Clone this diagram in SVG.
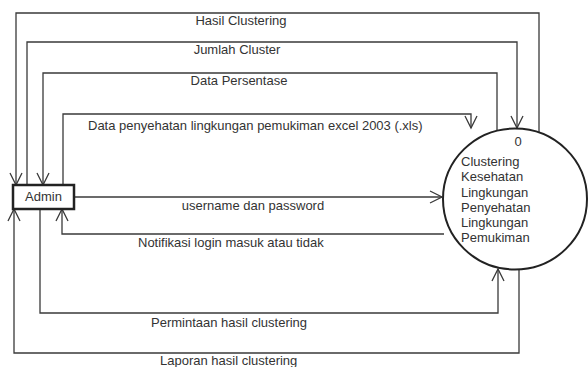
<svg xmlns="http://www.w3.org/2000/svg" width="588" height="367" viewBox="0 0 588 367">
<defs>
<marker id="arr" markerUnits="userSpaceOnUse" markerWidth="16" markerHeight="16" viewBox="-14 -8 16 16" refX="0" refY="0" orient="auto" overflow="visible">
<path d="M-12,-6 L0,0 L-12,6" fill="none" stroke="#3a3a3a" stroke-width="1.3"/>
</marker>
</defs>
<style>
.c{fill:none;stroke:#3a3a3a;stroke-width:1.3}
.a{marker-end:url(#arr)}
text{font-family:"Liberation Sans",Arial,sans-serif;font-size:13px;fill:#333}
.m{text-anchor:middle}
</style>
<rect width="588" height="367" fill="#fff"/>
<g id="connectors">
<path class="c a" d="M539,132 V13 H16 V185"/>
<path class="c a" d="M27,185 V42 H517 V128"/>
<path class="c a" d="M497,130 V73 H43 V185"/>
<path class="c a" d="M63,185 V114 H471 V128"/>
<path class="c a" d="M74,197 H442"/>
<path class="c a" d="M444,234 H62 V209"/>
<path class="c a" d="M40,209 V313 H498 V269"/>
<path class="c a" d="M519,270 V353 H14 V209"/>
<text class="m" x="241" y="25">Hasil Clustering</text>
<text class="m" x="237" y="54">Jumlah Cluster</text>
<text class="m" x="239" y="85">Data Persentase</text>
<text x="88" y="130">Data penyehatan lingkungan pemukiman excel 2003 (.xls)</text>
<text class="m" x="253" y="210">username dan password</text>
<text x="138" y="247">Notifikasi login masuk atau tidak</text>
<text x="151" y="327">Permintaan hasil clustering</text>
<text x="160" y="365">Laporan hasil clustering</text>
</g>
<g id="admin">
<rect x="13" y="185" width="61" height="24" fill="#fff" stroke="#222" stroke-width="2.5"/>
<text class="m" x="43.5" y="201">Admin</text>
</g>
<g id="process">
<ellipse cx="515" cy="199" rx="72" ry="70.5" fill="#fff" stroke="#222" stroke-width="2"/>
<text class="m" x="518" y="146">0</text>
<text x="461" y="166">Clustering</text>
<text x="461" y="181">Kesehatan</text>
<text x="461" y="196.5">Lingkungan</text>
<text x="461" y="212">Penyehatan</text>
<text x="461" y="227">Lingkungan</text>
<text x="461" y="242">Pemukiman</text>
</g>
</svg>
